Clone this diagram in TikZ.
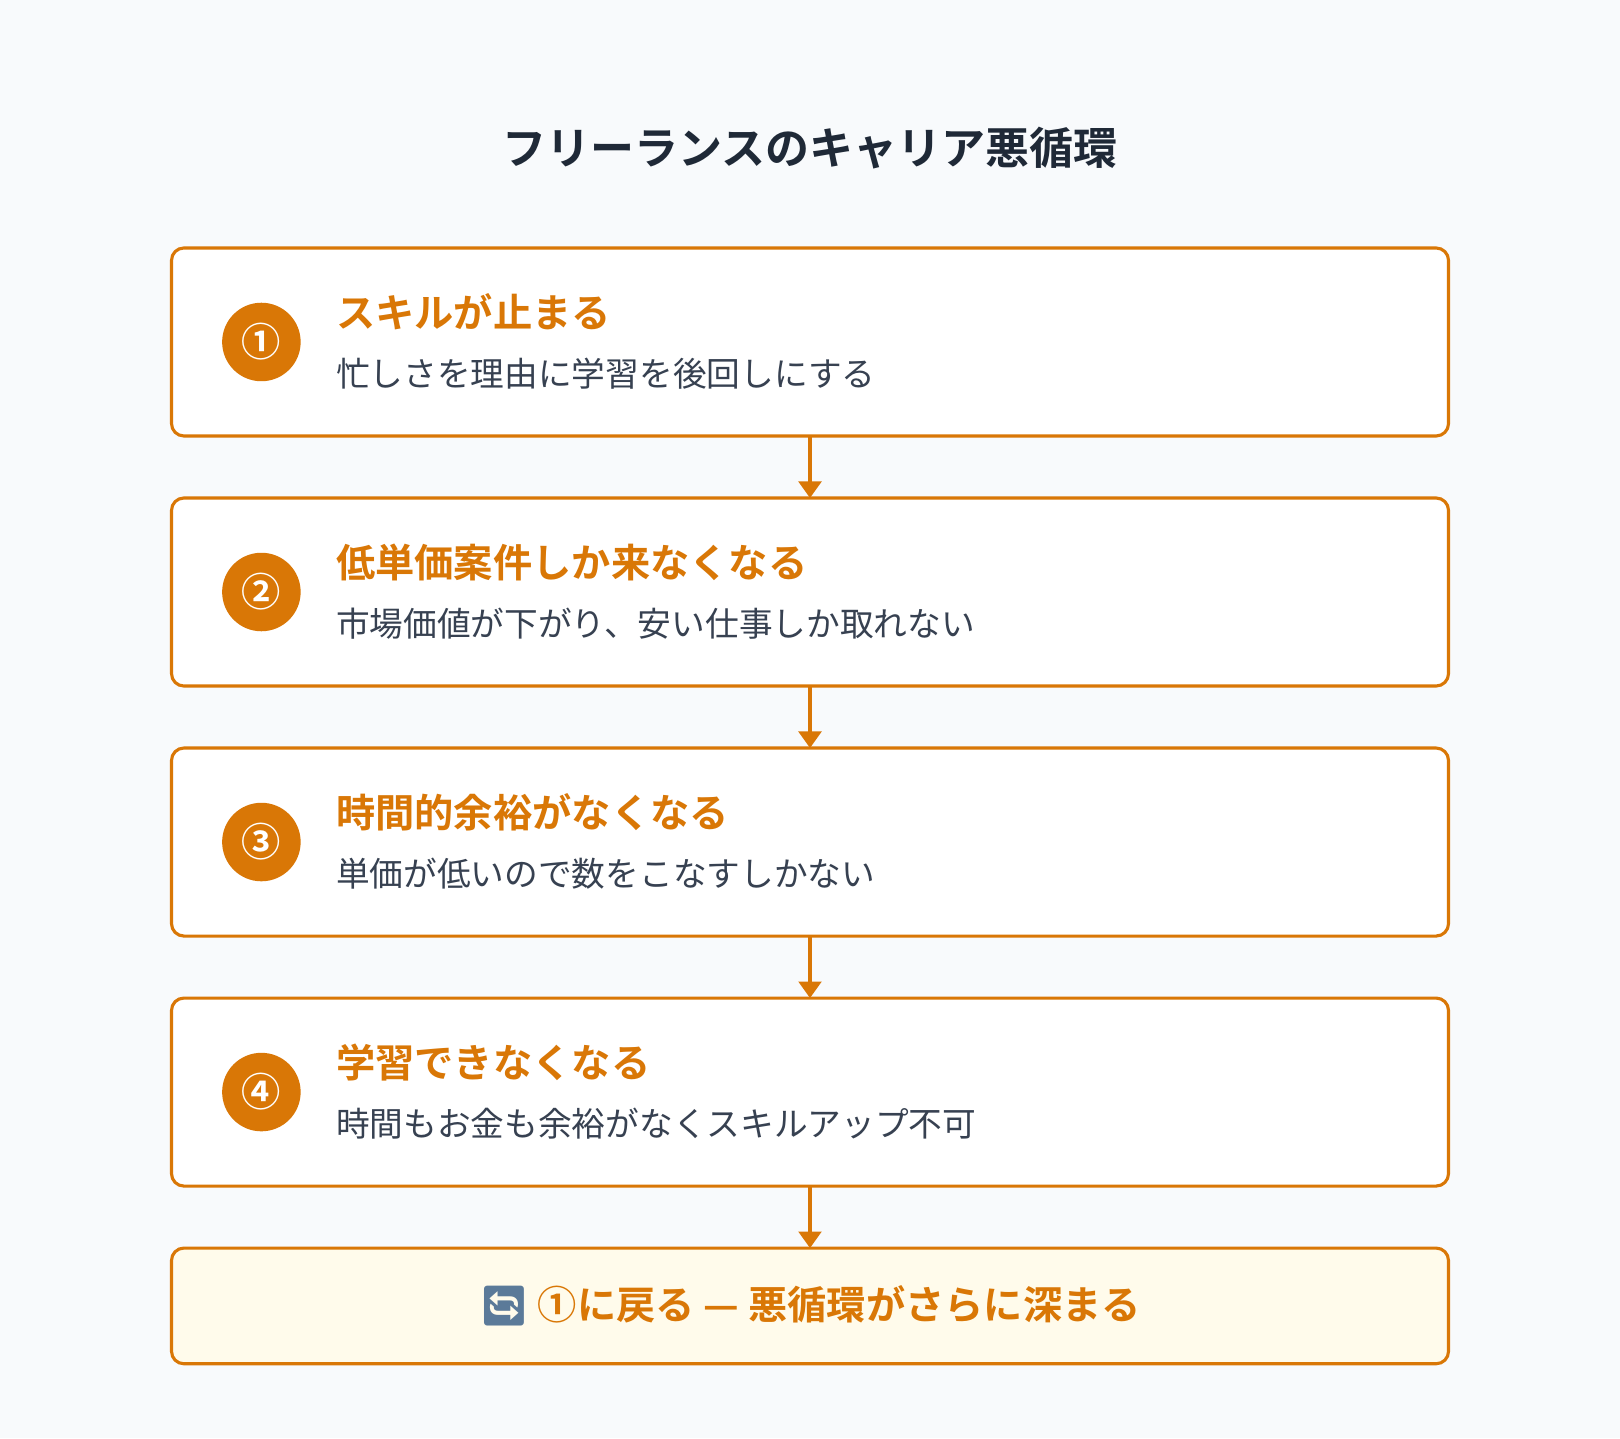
\documentclass[tikz,border=0pt]{standalone}
\usepackage{fontspec}
\setmainfont{Noto Sans CJK JP}
\newfontfamily\jpb{Noto Sans CJK JP Bold}
\newfontfamily\emo{Noto Emoji}
\usetikzlibrary{arrows.meta}
\definecolor{org}{HTML}{D97706}
\definecolor{ttl}{HTML}{1F2937}
\definecolor{sub}{HTML}{374151}
\definecolor{bg}{HTML}{F8FAFC}
\definecolor{fin}{HTML}{FFFBEB}
\definecolor{emc}{HTML}{5B7A99}
\tikzset{
 stepbox/.style={draw=org,line width=1.5pt,rounded corners=6pt,fill=white},
 numc/.style={circle,fill=org,minimum size=38pt,inner sep=0pt,text=white,font=\jpb\fontsize{19}{22}\selectfont},
 head/.style={anchor=west,text=org,font=\jpb\fontsize{19}{22}\selectfont,inner sep=0pt},
 subt/.style={anchor=west,text=sub,font=\fontsize{16.3}{19}\selectfont,inner sep=0pt},
 arr/.style={draw=org,line width=1.5pt,-{Triangle[length=8pt,width=11pt]}}
}
\begin{document}
\begin{tikzpicture}[x=0.5pt,y=-0.5pt]
\fill[bg] (0,0) rectangle (1568,1392);
\useasboundingbox (0,0) rectangle (1568,1392);
\node[text=ttl,font=\jpb\fontsize{21.3}{24}\selectfont] (title) at (784,143) {フリーランスのキャリア悪循環};
\foreach \i/\t/\s [count=\k from 0] in {
 ①/スキルが止まる/忙しさを理由に学習を後回しにする,
 ②/低単価案件しか来なくなる/市場価値が下がり、安い仕事しか取れない,
 ③/時間的余裕がなくなる/単価が低いので数をこなすしかない,
 ④/学習できなくなる/時間もお金も余裕がなくスキルアップ不可}{
 \pgfmathsetmacro{\yt}{240+242*\k}
 \pgfmathsetmacro{\yb}{\yt+182}
 \pgfmathsetmacro{\ym}{\yt+91}
 \draw[stepbox] (166,\yt) rectangle (1402,\yb);
 \coordinate (t\k) at (784,\yt);
 \coordinate (b\k) at (784,\yb);
 \node[numc] (c\k) at (253,\ym) {\i};
 \node[head] (h\k) at (325,\ym-29) {\t};
 \node[subt] (s\k) at (325,\ym+31) {\s};
}
\draw[stepbox,fill=fin] (166,1208) rectangle (1402,1320);
\coordinate (t4) at (784,1208);
\node[text=org,font=\jpb\fontsize{19}{22}\selectfont] (fin) at (784,1264) {{\emo\color{emc}🔄}\ ①に戻る — 悪循環がさらに深まる};
\foreach \a/\b in {0/1,1/2,2/3,3/4}{\draw[arr] (b\a) -- (t\b);}
\end{tikzpicture}
\end{document}
